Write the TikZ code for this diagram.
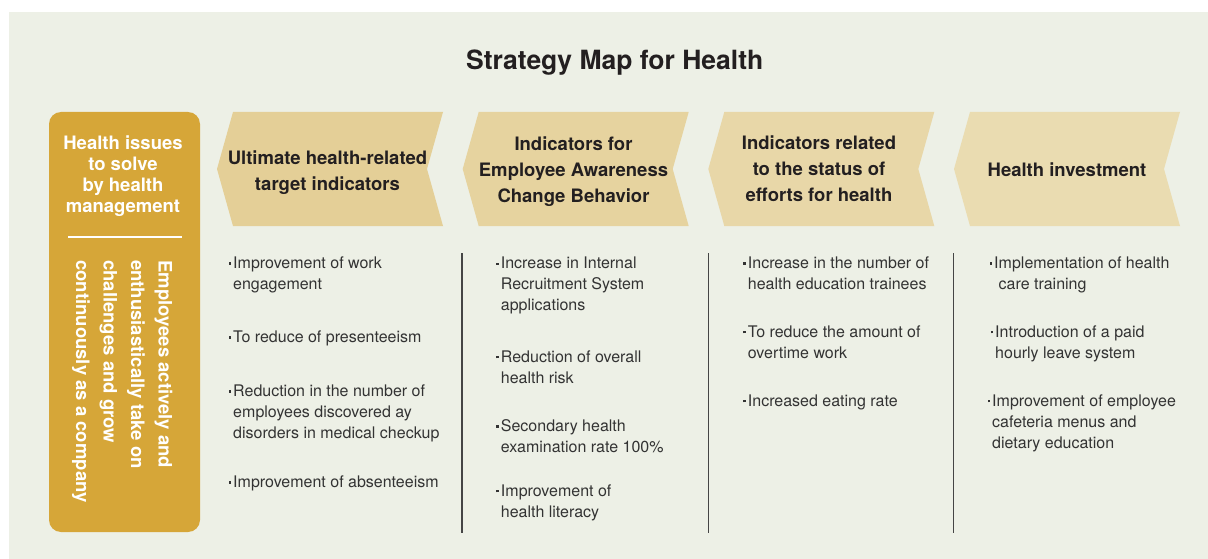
\documentclass[tikz,border=0pt]{standalone}
\usepackage{fontspec}
\setmainfont{TeX Gyre Heros}
\usepackage{xcolor}
\usetikzlibrary{positioning}

\definecolor{bgcol}{HTML}{EDF0E6}
\definecolor{issuecol}{HTML}{D6A638}
\definecolor{chevA}{HTML}{E4CF97}
\definecolor{chevB}{HTML}{E6D39F}
\definecolor{chevC}{HTML}{E8D7A8}
\definecolor{chevD}{HTML}{EADCB1}
\definecolor{ink}{HTML}{231F20}
\definecolor{txt}{HTML}{333333}
\definecolor{rule}{HTML}{454545}

% chevron pointing left: #1 = x of the left tip, #2 = colour
\newcommand\chevron[2]{%
  \fill[#2] (#1+16,112) -- (#1+226,112) -- (#1+210,169) -- (#1+226,226) -- (#1+16,226) -- (#1,169) -- cycle;}
\newcommand\dotitem{\llap{\rule[3.8pt]{2.3pt}{2.3pt}\hspace{2.2pt}}}

\begin{document}
\begin{tikzpicture}[
    x=1pt, y=-1pt,
    title/.style={font=\bfseries\fontsize{26.5}{30}\selectfont, text=ink, anchor=base, inner sep=0pt},
    issue/.style={fill=issuecol, rounded corners=12pt},
    issuetxt/.style={font=\bfseries\fontsize{18.5}{21}\selectfont, text=white, align=center, anchor=north, inner sep=0pt},
    aimtxt/.style={font=\bfseries\fontsize{18.5}{27.5}\selectfont, text=white, align=left, anchor=north west, rotate=-90, inner sep=0pt},
    head/.style={font=\bfseries\fontsize{18.5}{26}\selectfont, text=ink, align=center, anchor=north, inner sep=0pt},
    itm/.style={font=\fontsize{16}{21}\selectfont, text=txt, align=left, anchor=north west, inner sep=0pt},
    sepline/.style={line width=1.3pt, draw=rule}
]
\useasboundingbox (0,0) rectangle (1208,559);
\fill[bgcol] (9,12) rectangle (1208,559);

\node[title] (ttl) at (614.7,69.3) {Strategy Map for Health};

% left column
\fill[issue] (49,112) rectangle (200,532);
\node[issuetxt] (issues) at (123,135.7) {Health issues\\to solve\\by health\\management};
\draw[white, line width=1.3pt] (68,237) -- (182,237);
\node[aimtxt] (aim) at (172.5,260) {Employees actively and\\enthusiastically take on\\challenges and grow\\continuously as a company};

% header chevrons
\chevron{217}{chevA}
\chevron{462.7}{chevB}
\chevron{708.3}{chevC}
\chevron{954}{chevD}
\node[head] (hA) at (327.5,150.7) {Ultimate health-related\\target indicators};
\node[head] (hB) at (573.5,136.7) {Indicators for\\Employee Awareness\\Change Behavior};
\node[head] (hC) at (819,136) {Indicators related\\to the status of\\efforts for health};
\node[head] (hD) at (1067,162.7) {Health investment};

% column rules
\draw[sepline] (462,253) -- (462,533);
\draw[sepline] (708.7,253) -- (708.7,533);
\draw[sepline] (953.7,253) -- (953.7,533);

% ultimate indicators
\node[itm] (a1) at (233,256.5) {\dotitem Improvement of work\\engagement};
\node[itm] (a2) at (233,330.5) {\dotitem To reduce of presenteeism};
\node[itm] (a3) at (233,384.5) {\dotitem Reduction in the number of\\employees discovered ay\\disorders in medical checkup};
\node[itm] (a4) at (233,475.5) {\dotitem Improvement of absenteeism};

% awareness / behaviour
\node[itm] (b1) at (500.7,256.8) {\dotitem Increase in Internal\\Recruitment System\\applications};
\node[itm] (b2) at (500.7,350.2) {\dotitem Reduction of overall\\health risk};
\node[itm] (b3) at (500.7,419.2) {\dotitem Secondary health\\examination rate 100\%};
\node[itm] (b4) at (500.7,484.2) {\dotitem Improvement of\\health literacy};

% efforts for health
\node[itm] (c1) at (747.7,256.5) {\dotitem Increase in the number of\\health education trainees};
\node[itm] (c2) at (747.7,325.2) {\dotitem To reduce the amount of\\overtime work};
\node[itm] (c3) at (747.7,394.2) {\dotitem Increased eating rate};

% investment
\node[itm] (d1) at (994,256.5) {\dotitem Implementation of health\\\hspace{4.5pt}care training};
\node[itm] (d2) at (995,325.2) {\dotitem Introduction of a paid\\hourly leave system};
\node[itm] (d3) at (992,394.2) {\dotitem Improvement of employee\\cafeteria menus and\\dietary education};
\end{tikzpicture}
\end{document}
